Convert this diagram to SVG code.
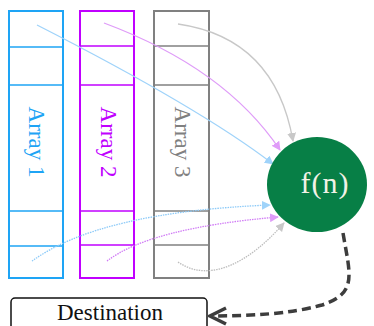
<svg xmlns="http://www.w3.org/2000/svg" width="374" height="326" viewBox="0 0 374 326">
<style>
.arr{fill:#fff;stroke-width:2}
.div{stroke-width:1.6}
.serif{font-family:'Liberation Serif','Times New Roman',serif}
.lbl{font-size:23px;text-anchor:middle}
.c{fill:none;stroke-width:1.3}
.dot{stroke-dasharray:1.5 1}
</style>
<defs>
<marker id="hb" viewBox="0 0 10 10" refX="9" refY="5" markerWidth="9" markerHeight="9" markerUnits="userSpaceOnUse" orient="auto"><path d="M0,0 L10,5 L0,10 Z" fill="#9fd3fa"/></marker>
<marker id="hp" viewBox="0 0 10 10" refX="9" refY="5" markerWidth="9" markerHeight="9" markerUnits="userSpaceOnUse" orient="auto"><path d="M0,0 L10,5 L0,10 Z" fill="#df9cf8"/></marker>
<marker id="hg" viewBox="0 0 10 10" refX="9" refY="5" markerWidth="9" markerHeight="9" markerUnits="userSpaceOnUse" orient="auto"><path d="M0,0 L10,5 L0,10 Z" fill="#c8c8c8"/></marker>
<marker id="hd" viewBox="0 0 20 20" refX="18" refY="10" markerWidth="20" markerHeight="20" markerUnits="userSpaceOnUse" orient="auto"><path d="M2,2 L18,10 L2,18" fill="none" stroke="#3d3d3d" stroke-width="3.5"/></marker>
</defs>
<g id="array1">
<rect class="arr" x="9" y="11" width="54" height="267" stroke="#1ea4f5"/>
<g class="div" stroke="#1ea4f5"><line x1="9" y1="47" x2="63" y2="47"/><line x1="9" y1="85" x2="63" y2="85"/><line x1="9" y1="211" x2="63" y2="211"/><line x1="9" y1="246" x2="63" y2="246"/></g>
<text class="serif lbl" fill="#1ea4f5" transform="translate(28.5,142) rotate(90)">Array 1</text>
</g>
<g id="array2">
<rect class="arr" x="80" y="11" width="54" height="267" stroke="#c000ff"/>
<g class="div" stroke="#c000ff"><line x1="80" y1="46" x2="134" y2="46"/><line x1="80" y1="85" x2="134" y2="85"/><line x1="80" y1="211" x2="134" y2="211"/><line x1="80" y1="245" x2="134" y2="245"/></g>
<text class="serif lbl" fill="#c000ff" transform="translate(101,142) rotate(90)">Array 2</text>
</g>
<g id="array3">
<rect class="arr" x="154" y="11" width="55" height="267" stroke="#808080"/>
<g class="div" stroke="#808080"><line x1="154" y1="46" x2="209" y2="46"/><line x1="154" y1="85" x2="209" y2="85"/><line x1="154" y1="211" x2="209" y2="211"/><line x1="154" y1="245" x2="209" y2="245"/></g>
<text class="serif lbl" fill="#808080" transform="translate(175,142) rotate(90)">Array 3</text>
</g>
<g id="destination">
<rect x="11" y="298" width="196" height="40" rx="4" fill="#fff" stroke="#111" stroke-width="1.5"/>
<text class="serif" x="110" y="320" font-size="23" fill="#111" text-anchor="middle">Destination</text>
</g>
<g id="connectors">
<path class="c" d="M37,25 Q200,108 273,164" stroke="#9fd3fa" marker-end="url(#hb)"/>
<path class="c" d="M104,23 Q225,68 280,150" stroke="#df9cf8" marker-end="url(#hp)"/>
<path class="c" d="M178,24 Q275,38 293,141" stroke="#c8c8c8" marker-end="url(#hg)"/>
<path class="c dot" d="M32,261 Q100,212 270,205" stroke="#8ccaf8" marker-end="url(#hb)"/>
<path class="c dot" d="M107,261 Q150,228 278,217" stroke="#d07cf5" marker-end="url(#hp)"/>
<path class="c dot" d="M178,262 C210,284 250,262 284,223" stroke="#bdbdbd" marker-end="url(#hg)"/>
<path d="M343,233 C350,275 358,293 322,305 C290,314 250,316 210,316" fill="none" stroke="#3d3d3d" stroke-width="3.5" stroke-dasharray="9 5" marker-end="url(#hd)"/>
</g>
<g id="fn">
<ellipse cx="317" cy="184.5" rx="50" ry="47.5" fill="#077f46"/>
<text class="serif" x="325" y="193" font-size="30" fill="#f2f2e6" text-anchor="middle" letter-spacing="1">f(n)</text>
</g>
</svg>
